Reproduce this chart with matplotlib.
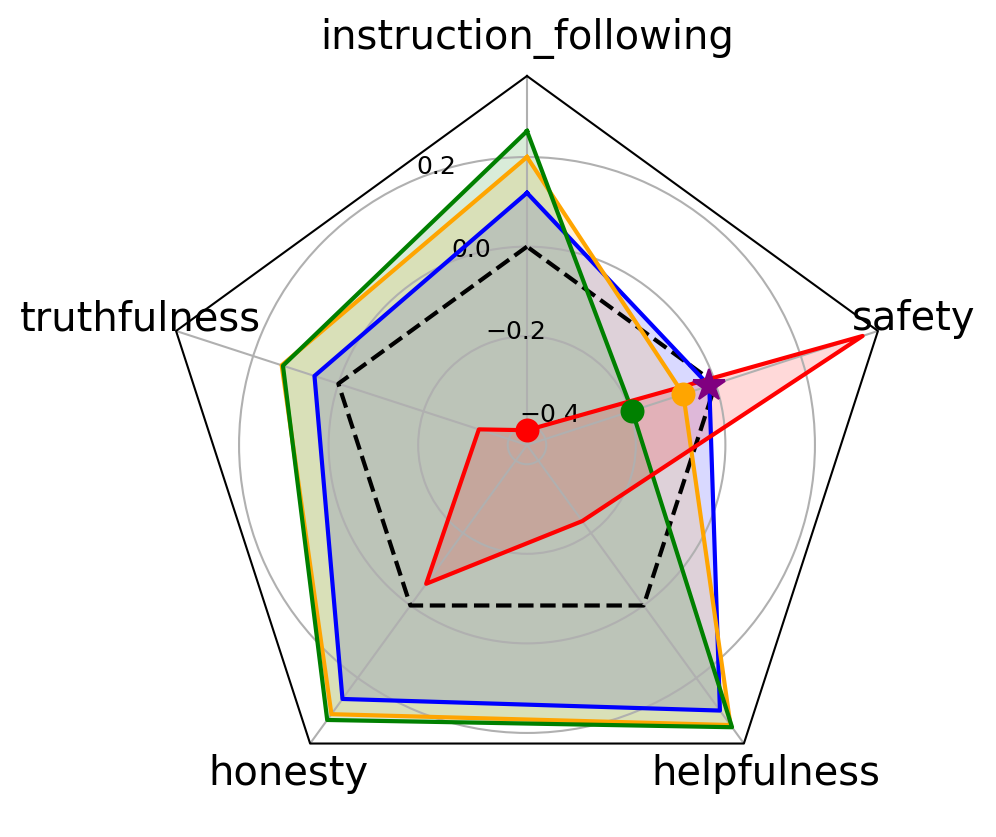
import numpy as np
import matplotlib
matplotlib.use("Agg")
import matplotlib.pyplot as plt

categories = ["instruction_following", "truthfulness", "honesty", "helpfulness", "safety"]

baseline = [0.0, 0.0, 0.0, 0.0, 0.0]
series_blue = [0.12, 0.056, 0.258, 0.29, -0.015]
series_orange = [0.20, 0.133, 0.30, 0.33, -0.076]
series_green = [0.258, 0.13, 0.316, 0.336, -0.196]
series_red = [-0.41, -0.33, -0.06, -0.233, 0.345]

marker_cats = ["instruction_following", "safety", "safety", "safety"]
marker_vals = [-0.41, -0.196, -0.076, -0.015]
marker_colors = ["red", "green", "orange", "purple"]
marker_shapes = ["o", "o", "o", "*"]
marker_sizes = [10.5, 10.5, 10.5, 16]

rticks = [-0.4, -0.2, 0.0, 0.2]
rmin, rmax = -0.443, 0.381

DPI = 150
fig = plt.figure(figsize=(996 / DPI, 837 / DPI), dpi=DPI)
W, H = 996, 837
cx, cy, R = 527, 445, 369
ax = fig.add_axes([(cx - R) / W, (H - cy - R) / H, 2 * R / W, 2 * R / H], projection="polar")
ax.set_theta_zero_location("N")

n = len(categories)
theta = np.linspace(0, 2 * np.pi, n, endpoint=False)
theta_closed = np.concatenate([theta, theta[:1]])

def closed(v):
    return list(v) + [v[0]]

ax.set_ylim(rmin, rmax)
ax.spines["polar"].set_visible(False)
ax.plot(theta_closed, [rmax] * (n + 1), color="black", lw=1, clip_on=False, zorder=5)

for vals, col in [(series_blue, "blue"), (series_orange, "orange"),
                  (series_green, "green"), (series_red, "red")]:
    ax.fill(theta_closed, closed(vals), color=col, alpha=0.15, lw=0, zorder=1)

ax.plot(theta_closed, closed(baseline), color="black", ls="--", lw=2, zorder=3)
for vals, col in [(series_blue, "blue"), (series_orange, "orange"),
                  (series_green, "green"), (series_red, "red")]:
    ax.plot(theta_closed, closed(vals), color=col, lw=2, zorder=3)

for c, v, col, m, s in zip(marker_cats, marker_vals, marker_colors, marker_shapes, marker_sizes):
    t = theta[categories.index(c)]
    ax.plot([t], [v], marker=m, color=col, ms=s, ls="none", zorder=6)

ax.set_xticks(theta)
ax.set_xticklabels(categories, fontsize=19.2)
ax.tick_params(axis="x", pad=11, length=0)
ax.set_yticks(rticks)
ax.set_yticklabels([f"{t:.1f}".replace("-", "\u2212") for t in rticks], fontsize=12)
ax.grid(True, color="#b0b0b0", lw=1.0)

fig.savefig("out.png", dpi=DPI)
